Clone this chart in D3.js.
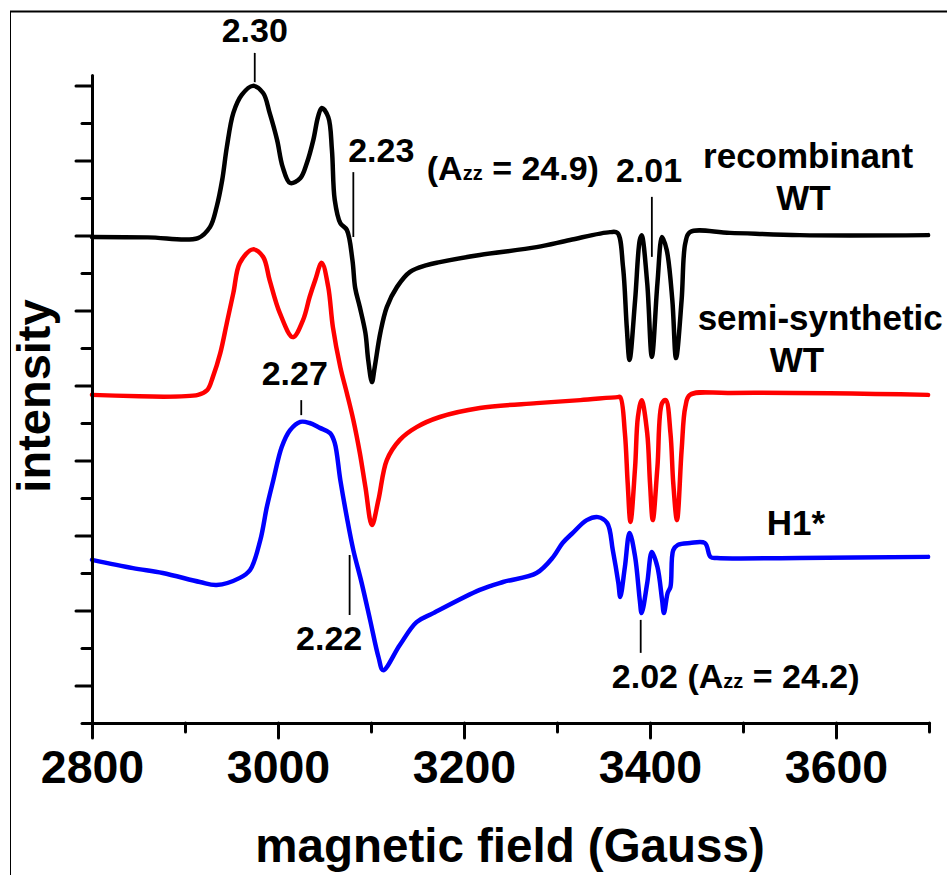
<!DOCTYPE html>
<html>
<head>
<meta charset="utf-8">
<script src="https://cdn.jsdelivr.net/npm/d3@7"></script>
<style>
  html, body { margin: 0; padding: 0; background: #fff; }
  svg { display: block; }
  text { font-family: "Liberation Sans", Arial, Helvetica, sans-serif; font-weight: bold; fill: #000; }
</style>
</head>
<body>
<script>
// ---------- DATA ----------
const xMajorTicks = [2800, 3000, 3200, 3400, 3600];
const xMinorTicks = [2900, 3100, 3300, 3500, 3700];
const yMajorTicks = [1, 3, 5, 7, 9, 11, 13, 15, 17];
const yMinorTicks = [0, 2, 4, 6, 8, 10, 12, 14, 16];

const seriesNames = ["recombinant WT", "semi-synthetic WT", "H1*"];
const seriesColors = ["#000000", "#ff0000", "#0000ff"];

// [magnetic field (G), intensity (a.u.)]
const recombinantWT = [
  [2800,12.96],[2860,12.95],[2914,12.93],[2927,13.23],[2934,13.76],[2940,14.48],[2945,15.36],
  [2952,16.27],[2961,16.75],[2973,16.99],[2984,16.80],[2991,16.27],[2999,15.55],[3005,14.83],
  [3013,14.40],[3024,14.53],[3031,14.93],[3038,15.55],[3043,16.16],[3047,16.40],[3054,16.16],
  [3058,15.28],[3061,13.95],[3067,13.33],[3074,13.15],[3080,12.35],[3083,11.60],[3088,11.09],
  [3094,10.40],[3097,9.68],[3101,9.09],[3104,9.49],[3110,10.40],[3117,11.09],[3128,11.63],
  [3142,12.03],[3160,12.21],[3174,12.29],[3217,12.48],[3278,12.69],[3314,12.88],[3357,13.09],
  [3365,13.07],[3371,12.16],[3375,10.56],[3378,9.68],[3384,11.28],[3389,12.88],[3391,13.01],
  [3397,11.73],[3402,9.76],[3408,11.73],[3413,12.96],[3418,12.61],[3424,11.28],[3428,9.73],
  [3434,11.28],[3438,12.80],[3443,13.09],[3486,13.07],[3561,13.01],[3699,13.01]
];

const semiSyntheticWT = [
  [2800,8.75],[2914,8.75],[2924,8.88],[2930,9.23],[2938,9.87],[2945,10.67],[2952,11.47],
  [2959,12.27],[2973,12.63],[2984,12.43],[2991,11.81],[3002,10.93],[3016,10.29],[3027,10.75],
  [3034,11.36],[3040,11.81],[3047,12.27],[3054,11.63],[3059,10.56],[3067,9.49],[3074,8.80],
  [3081,8.08],[3088,7.20],[3094,6.29],[3101,5.28],[3108,5.95],[3117,7.01],[3131,7.55],
  [3149,7.89],[3174,8.16],[3217,8.40],[3278,8.53],[3325,8.61],[3365,8.69],[3368,8.69],
  [3373,7.73],[3376,6.40],[3379,5.36],[3384,6.83],[3387,8.16],[3391,8.61],[3397,7.73],
  [3400,6.40],[3403,5.41],[3408,6.83],[3413,8.53],[3417,8.61],[3422,7.73],[3425,6.40],
  [3429,5.41],[3434,7.28],[3438,8.43],[3443,8.75],[3486,8.80],[3699,8.75]
];

const h1Star = [
  [2800,4.35],[2844,4.13],[2876,4.00],[2916,3.76],[2934,3.68],[2959,3.87],[2970,4.08],
  [2981,4.88],[2988,5.76],[2995,6.48],[3004,7.36],[3013,7.81],[3024,8.03],[3034,8.00],
  [3045,7.87],[3056,7.73],[3061,7.47],[3067,6.48],[3074,5.49],[3081,4.61],[3090,3.73],
  [3099,2.75],[3108,1.76],[3113,1.41],[3131,2.08],[3149,2.69],[3167,2.93],[3217,3.55],
  [3242,3.76],[3278,4.00],[3296,4.43],[3306,4.80],[3317,5.07],[3332,5.41],[3344,5.49],
  [3354,5.33],[3360,4.61],[3366,3.73],[3368,3.36],[3373,4.16],[3378,5.07],[3384,4.43],
  [3389,3.28],[3391,2.93],[3397,3.73],[3402,4.56],[3408,4.16],[3413,3.28],[3415,2.93],
  [3419,3.47],[3422,3.63],[3425,4.61],[3430,4.75],[3443,4.80],[3459,4.80],[3465,4.43],
  [3472,4.40],[3561,4.40],[3699,4.43]
];

const seriesData = [recombinantWT, semiSyntheticWT, h1Star];

// g-value markers: [field, intensity top, intensity bottom]
const gMarkers = [
  [2975, 17.87, 17.09],
  [3081, 14.69, 12.96],
  [3402, 14.03, 12.43],
  [3025, 8.61, 8.21],
  [3077, 4.48, 2.88],
  [3390, 2.75, 1.87]
];

// annotation labels: text parts, anchor field, anchor intensity, anchor
const annotations = [
  { parts: [["2.30"]], G: 2975, v: 18.16, anchor: "middle" },
  { parts: [["2.23"]], G: 3111, v: 14.96, anchor: "middle" },
  { parts: [["(A"], ["zz", "sub"], [" = 24.9)"]], G: 3160, v: 14.48, anchor: "start" },
  { parts: [["2.01"]], G: 3399, v: 14.43, anchor: "middle" },
  { parts: [["2.27"]], G: 3018, v: 9.01, anchor: "middle" },
  { parts: [["2.22"]], G: 3055, v: 1.95, anchor: "middle" },
  { parts: [["2.02 (A"], ["zz", "sub"], [" = 24.2)"]], G: 3359, v: 0.93, anchor: "start" }
];

const seriesLabels = [
  { lines: ["recombinant", "WT"], G: [3570, 3565], v: [14.80, 13.68] },
  { lines: ["semi-synthetic", "WT"], G: [3583, 3558], v: [10.48, 9.36] },
  { lines: ["H1*"], G: [3557], v: [5.01] }
];

const xTitle = "magnetic field (Gauss)";
const yTitle = "intensity";

// ---------- CHART ----------
const W = 947, H = 875;
const svg = d3.select("body").append("svg").attr("width", W).attr("height", H);
svg.append("rect").attr("width", W).attr("height", H).attr("fill", "#fff");

// outer frame
svg.append("line").attr("x1", 10).attr("x2", W + 5).attr("y1", 11.5).attr("y2", 11.5)
  .attr("stroke", "#000").attr("stroke-width", 2);
svg.append("line").attr("x1", 10.5).attr("x2", 10.5).attr("y1", 11).attr("y2", H + 5)
  .attr("stroke", "#000").attr("stroke-width", 1);

const x = d3.scaleLinear().domain([2800, 3700]).range([92, 929]);
const y = d3.scaleLinear().domain([0, 17.28]).range([723, 75]);

// curves
const line = d3.line().x(d => x(d[0])).y(d => y(d[1])).curve(d3.curveCatmullRom.alpha(0.5));
svg.append("g").selectAll("path").data(seriesData).join("path")
  .attr("d", d => line(d))
  .attr("fill", "none")
  .attr("stroke", (d, i) => seriesColors[i])
  .attr("stroke-width", 4.5)
  .attr("stroke-linejoin", "round")
  .attr("stroke-linecap", "round");

// axes
function styleAxis(g) {
  g.selectAll("path, line").attr("stroke", "#000").attr("stroke-width", 3).attr("stroke-linecap", "round");
}
const xAxisMinor = svg.append("g").attr("transform", "translate(0,723)")
  .call(d3.axisBottom(x).tickValues(xMinorTicks).tickSize(9).tickSizeOuter(0).tickFormat(""));
styleAxis(xAxisMinor);
const xAxisMajor = svg.append("g").attr("transform", "translate(0,723)")
  .call(d3.axisBottom(x).tickValues(xMajorTicks).tickSize(15).tickSizeOuter(0).tickFormat(d3.format("d")));
styleAxis(xAxisMajor);
xAxisMajor.select(".domain").remove();
xAxisMajor.selectAll("text")
  .attr("y", 60).attr("dy", 0)
  .style("font-size", "46.5px").style("font-weight", "bold")
  .style("font-family", '"Liberation Sans", Arial, sans-serif').attr("fill", "#000");

const yAxisMinor = svg.append("g").attr("transform", "translate(92,0)")
  .call(d3.axisLeft(y).tickValues(yMinorTicks).tickSize(10).tickSizeOuter(0).tickFormat(""));
styleAxis(yAxisMinor);
const yAxisMajor = svg.append("g").attr("transform", "translate(92,0)")
  .call(d3.axisLeft(y).tickValues(yMajorTicks).tickSize(16).tickSizeOuter(0).tickFormat(""));
styleAxis(yAxisMajor);
yAxisMajor.select(".domain").remove();

// axis titles
svg.append("text").attr("x", 510).attr("y", 862).attr("text-anchor", "middle")
  .style("font-size", "47.5px").text(xTitle);
svg.append("text").attr("transform", "translate(50,396) rotate(-90)").attr("text-anchor", "middle")
  .style("font-size", "47px").text(yTitle);

// g-value markers
svg.append("g").selectAll("line").data(gMarkers).join("line")
  .attr("x1", d => x(d[0])).attr("x2", d => x(d[0]))
  .attr("y1", d => y(d[1])).attr("y2", d => y(d[2]))
  .attr("stroke", "#000").attr("stroke-width", 1.8);

// annotations
annotations.forEach(a => {
  const t = svg.append("text").attr("x", x(a.G)).attr("y", y(a.v))
    .attr("text-anchor", a.anchor).style("font-size", "34px");
  a.parts.forEach(p => {
    const ts = t.append("tspan").text(p[0]);
    if (p[1] === "sub") ts.style("font-size", "20px");
  });
});

// series labels
seriesLabels.forEach(s => {
  s.lines.forEach((ln, i) => {
    svg.append("text").attr("x", x(s.G[i])).attr("y", y(s.v[i]))
      .attr("text-anchor", "middle").style("font-size", "35px").text(ln);
  });
});
</script>
</body>
</html>
